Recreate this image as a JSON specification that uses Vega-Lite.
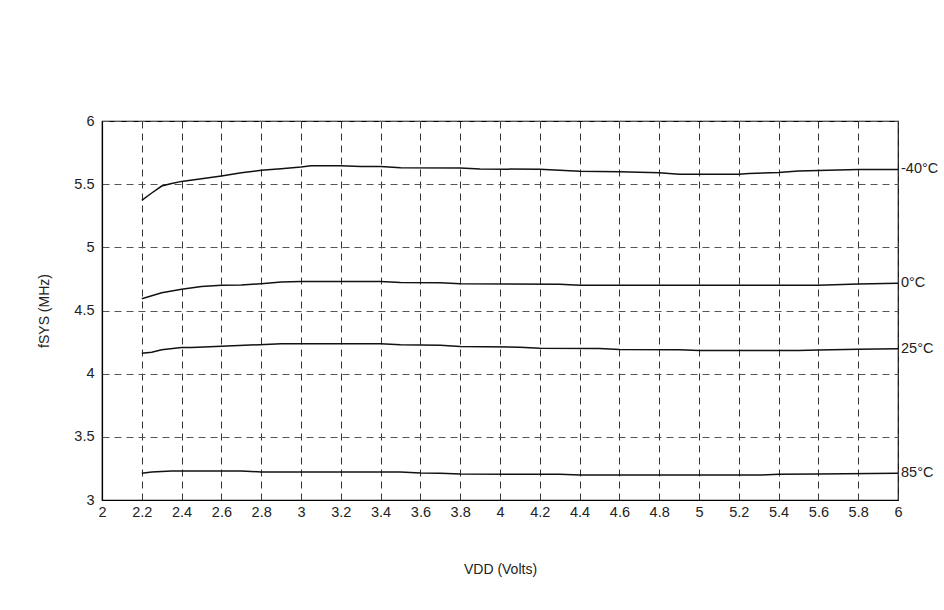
{
  "$schema": "https://vega.github.io/schema/vega-lite/v6.json",
  "autosize": "none",
  "width": 796,
  "height": 379,
  "padding": {"left": 102, "top": 121, "right": 46, "bottom": 110},
  "background": "white",
  "config": {
    "font": "Liberation Sans",
    "view": {"stroke": "#000", "strokeWidth": 1.2}
  },
  "datasets": {
    "curves": [
      {"t": "-40°C", "v": 2.2, "f": 5.372},
      {"t": "-40°C", "v": 2.25, "f": 5.43},
      {"t": "-40°C", "v": 2.3, "f": 5.485},
      {"t": "-40°C", "v": 2.35, "f": 5.505},
      {"t": "-40°C", "v": 2.4, "f": 5.522},
      {"t": "-40°C", "v": 2.5, "f": 5.542},
      {"t": "-40°C", "v": 2.6, "f": 5.565},
      {"t": "-40°C", "v": 2.7, "f": 5.59},
      {"t": "-40°C", "v": 2.8, "f": 5.61},
      {"t": "-40°C", "v": 2.9, "f": 5.622},
      {"t": "-40°C", "v": 3.0, "f": 5.635},
      {"t": "-40°C", "v": 3.05, "f": 5.645},
      {"t": "-40°C", "v": 3.2, "f": 5.645},
      {"t": "-40°C", "v": 3.3, "f": 5.64},
      {"t": "-40°C", "v": 3.4, "f": 5.64},
      {"t": "-40°C", "v": 3.5, "f": 5.63},
      {"t": "-40°C", "v": 3.8, "f": 5.627},
      {"t": "-40°C", "v": 3.9, "f": 5.62},
      {"t": "-40°C", "v": 4.2, "f": 5.618},
      {"t": "-40°C", "v": 4.4, "f": 5.603},
      {"t": "-40°C", "v": 4.6, "f": 5.598},
      {"t": "-40°C", "v": 4.8, "f": 5.59},
      {"t": "-40°C", "v": 4.9, "f": 5.578},
      {"t": "-40°C", "v": 5.2, "f": 5.578},
      {"t": "-40°C", "v": 5.25, "f": 5.585},
      {"t": "-40°C", "v": 5.4, "f": 5.592},
      {"t": "-40°C", "v": 5.5, "f": 5.605},
      {"t": "-40°C", "v": 5.8, "f": 5.617},
      {"t": "-40°C", "v": 6.0, "f": 5.617},
      {"t": "0°C", "v": 2.2, "f": 4.593},
      {"t": "0°C", "v": 2.3, "f": 4.64},
      {"t": "0°C", "v": 2.4, "f": 4.668},
      {"t": "0°C", "v": 2.5, "f": 4.69},
      {"t": "0°C", "v": 2.6, "f": 4.7},
      {"t": "0°C", "v": 2.7, "f": 4.702},
      {"t": "0°C", "v": 2.8, "f": 4.712},
      {"t": "0°C", "v": 2.9, "f": 4.725},
      {"t": "0°C", "v": 3.0, "f": 4.73},
      {"t": "0°C", "v": 3.4, "f": 4.73},
      {"t": "0°C", "v": 3.5, "f": 4.722},
      {"t": "0°C", "v": 3.7, "f": 4.72},
      {"t": "0°C", "v": 3.8, "f": 4.712},
      {"t": "0°C", "v": 4.3, "f": 4.708},
      {"t": "0°C", "v": 4.4, "f": 4.7},
      {"t": "0°C", "v": 5.6, "f": 4.7},
      {"t": "0°C", "v": 5.8, "f": 4.71},
      {"t": "0°C", "v": 6.0, "f": 4.716},
      {"t": "25°C", "v": 2.2, "f": 4.162},
      {"t": "25°C", "v": 2.25, "f": 4.17},
      {"t": "25°C", "v": 2.3, "f": 4.19},
      {"t": "25°C", "v": 2.4, "f": 4.207},
      {"t": "25°C", "v": 2.45, "f": 4.207},
      {"t": "25°C", "v": 2.6, "f": 4.217},
      {"t": "25°C", "v": 2.9, "f": 4.236},
      {"t": "25°C", "v": 3.4, "f": 4.236},
      {"t": "25°C", "v": 3.5, "f": 4.228},
      {"t": "25°C", "v": 3.7, "f": 4.224},
      {"t": "25°C", "v": 3.8, "f": 4.215},
      {"t": "25°C", "v": 4.1, "f": 4.21},
      {"t": "25°C", "v": 4.2, "f": 4.202},
      {"t": "25°C", "v": 4.5, "f": 4.2},
      {"t": "25°C", "v": 4.6, "f": 4.192},
      {"t": "25°C", "v": 4.9, "f": 4.19},
      {"t": "25°C", "v": 5.0, "f": 4.184},
      {"t": "25°C", "v": 5.5, "f": 4.184},
      {"t": "25°C", "v": 5.6, "f": 4.188},
      {"t": "25°C", "v": 5.8, "f": 4.194},
      {"t": "25°C", "v": 6.0, "f": 4.197},
      {"t": "85°C", "v": 2.2, "f": 3.212},
      {"t": "85°C", "v": 2.25, "f": 3.222},
      {"t": "85°C", "v": 2.35, "f": 3.23},
      {"t": "85°C", "v": 2.7, "f": 3.23},
      {"t": "85°C", "v": 2.8, "f": 3.222},
      {"t": "85°C", "v": 3.5, "f": 3.222},
      {"t": "85°C", "v": 3.6, "f": 3.213},
      {"t": "85°C", "v": 3.7, "f": 3.212},
      {"t": "85°C", "v": 3.8, "f": 3.205},
      {"t": "85°C", "v": 4.3, "f": 3.204},
      {"t": "85°C", "v": 4.4, "f": 3.197},
      {"t": "85°C", "v": 5.3, "f": 3.197},
      {"t": "85°C", "v": 5.4, "f": 3.204},
      {"t": "85°C", "v": 5.6, "f": 3.206},
      {"t": "85°C", "v": 6.0, "f": 3.212}
    ],
    "labels": [
      {"t": "-40°C", "v": 6.0, "f": 5.617},
      {"t": "0°C", "v": 6.0, "f": 4.716},
      {"t": "25°C", "v": 6.0, "f": 4.197},
      {"t": "85°C", "v": 6.0, "f": 3.212}
    ]
  },
  "encoding": {
    "x": {
      "field": "v", "type": "quantitative",
      "scale": {"domain": [2, 6], "nice": false, "zero": false},
      "axis": {
        "title": "VDD (Volts)",
        "values": [2, 2.2, 2.4, 2.6, 2.8, 3, 3.2, 3.4, 3.6, 3.8, 4, 4.2, 4.4, 4.6, 4.8, 5, 5.2, 5.4, 5.6, 5.8, 6],
        "format": "~g",
        "labelFontSize": 14.5, "labelColor": "#222", "labelPadding": 5,
        "labelFlush": false, "labelOverlap": false,
        "ticks": false, "tickSize": 0,
        "domainColor": "#000", "domainWidth": 1.2,
        "grid": true, "gridColor": "#333", "gridDash": [7, 5], "gridWidth": 1,
        "titleFontSize": 14, "titleFontWeight": "normal", "titleColor": "#222", "titlePadding": 44
      }
    },
    "y": {
      "field": "f", "type": "quantitative",
      "scale": {"domain": [3, 6], "nice": false, "zero": false},
      "axis": {
        "title": "fSYS (MHz)",
        "values": [3, 3.5, 4, 4.5, 5, 5.5, 6],
        "format": "~g",
        "labelFontSize": 14.5, "labelColor": "#222", "labelPadding": 8,
        "labelFlush": false, "labelOverlap": false,
        "ticks": false, "tickSize": 0,
        "domainColor": "#000", "domainWidth": 1.2,
        "grid": true, "gridColor": "#555", "gridDash": [7, 5], "gridWidth": 1,
        "titleFontSize": 14, "titleFontWeight": "normal", "titleColor": "#222", "titlePadding": 22
      }
    }
  },
  "layer": [
    {
      "data": {"name": "curves"},
      "mark": {"type": "line", "color": "#111", "strokeWidth": 1.5},
      "encoding": {
        "detail": {"field": "t"}
      }
    },
    {
      "data": {"name": "labels"},
      "mark": {"type": "text", "align": "left", "baseline": "middle", "dx": 3, "fontSize": 14.5, "color": "#222"},
      "encoding": {
        "text": {"field": "t"}
      }
    }
  ]
}
